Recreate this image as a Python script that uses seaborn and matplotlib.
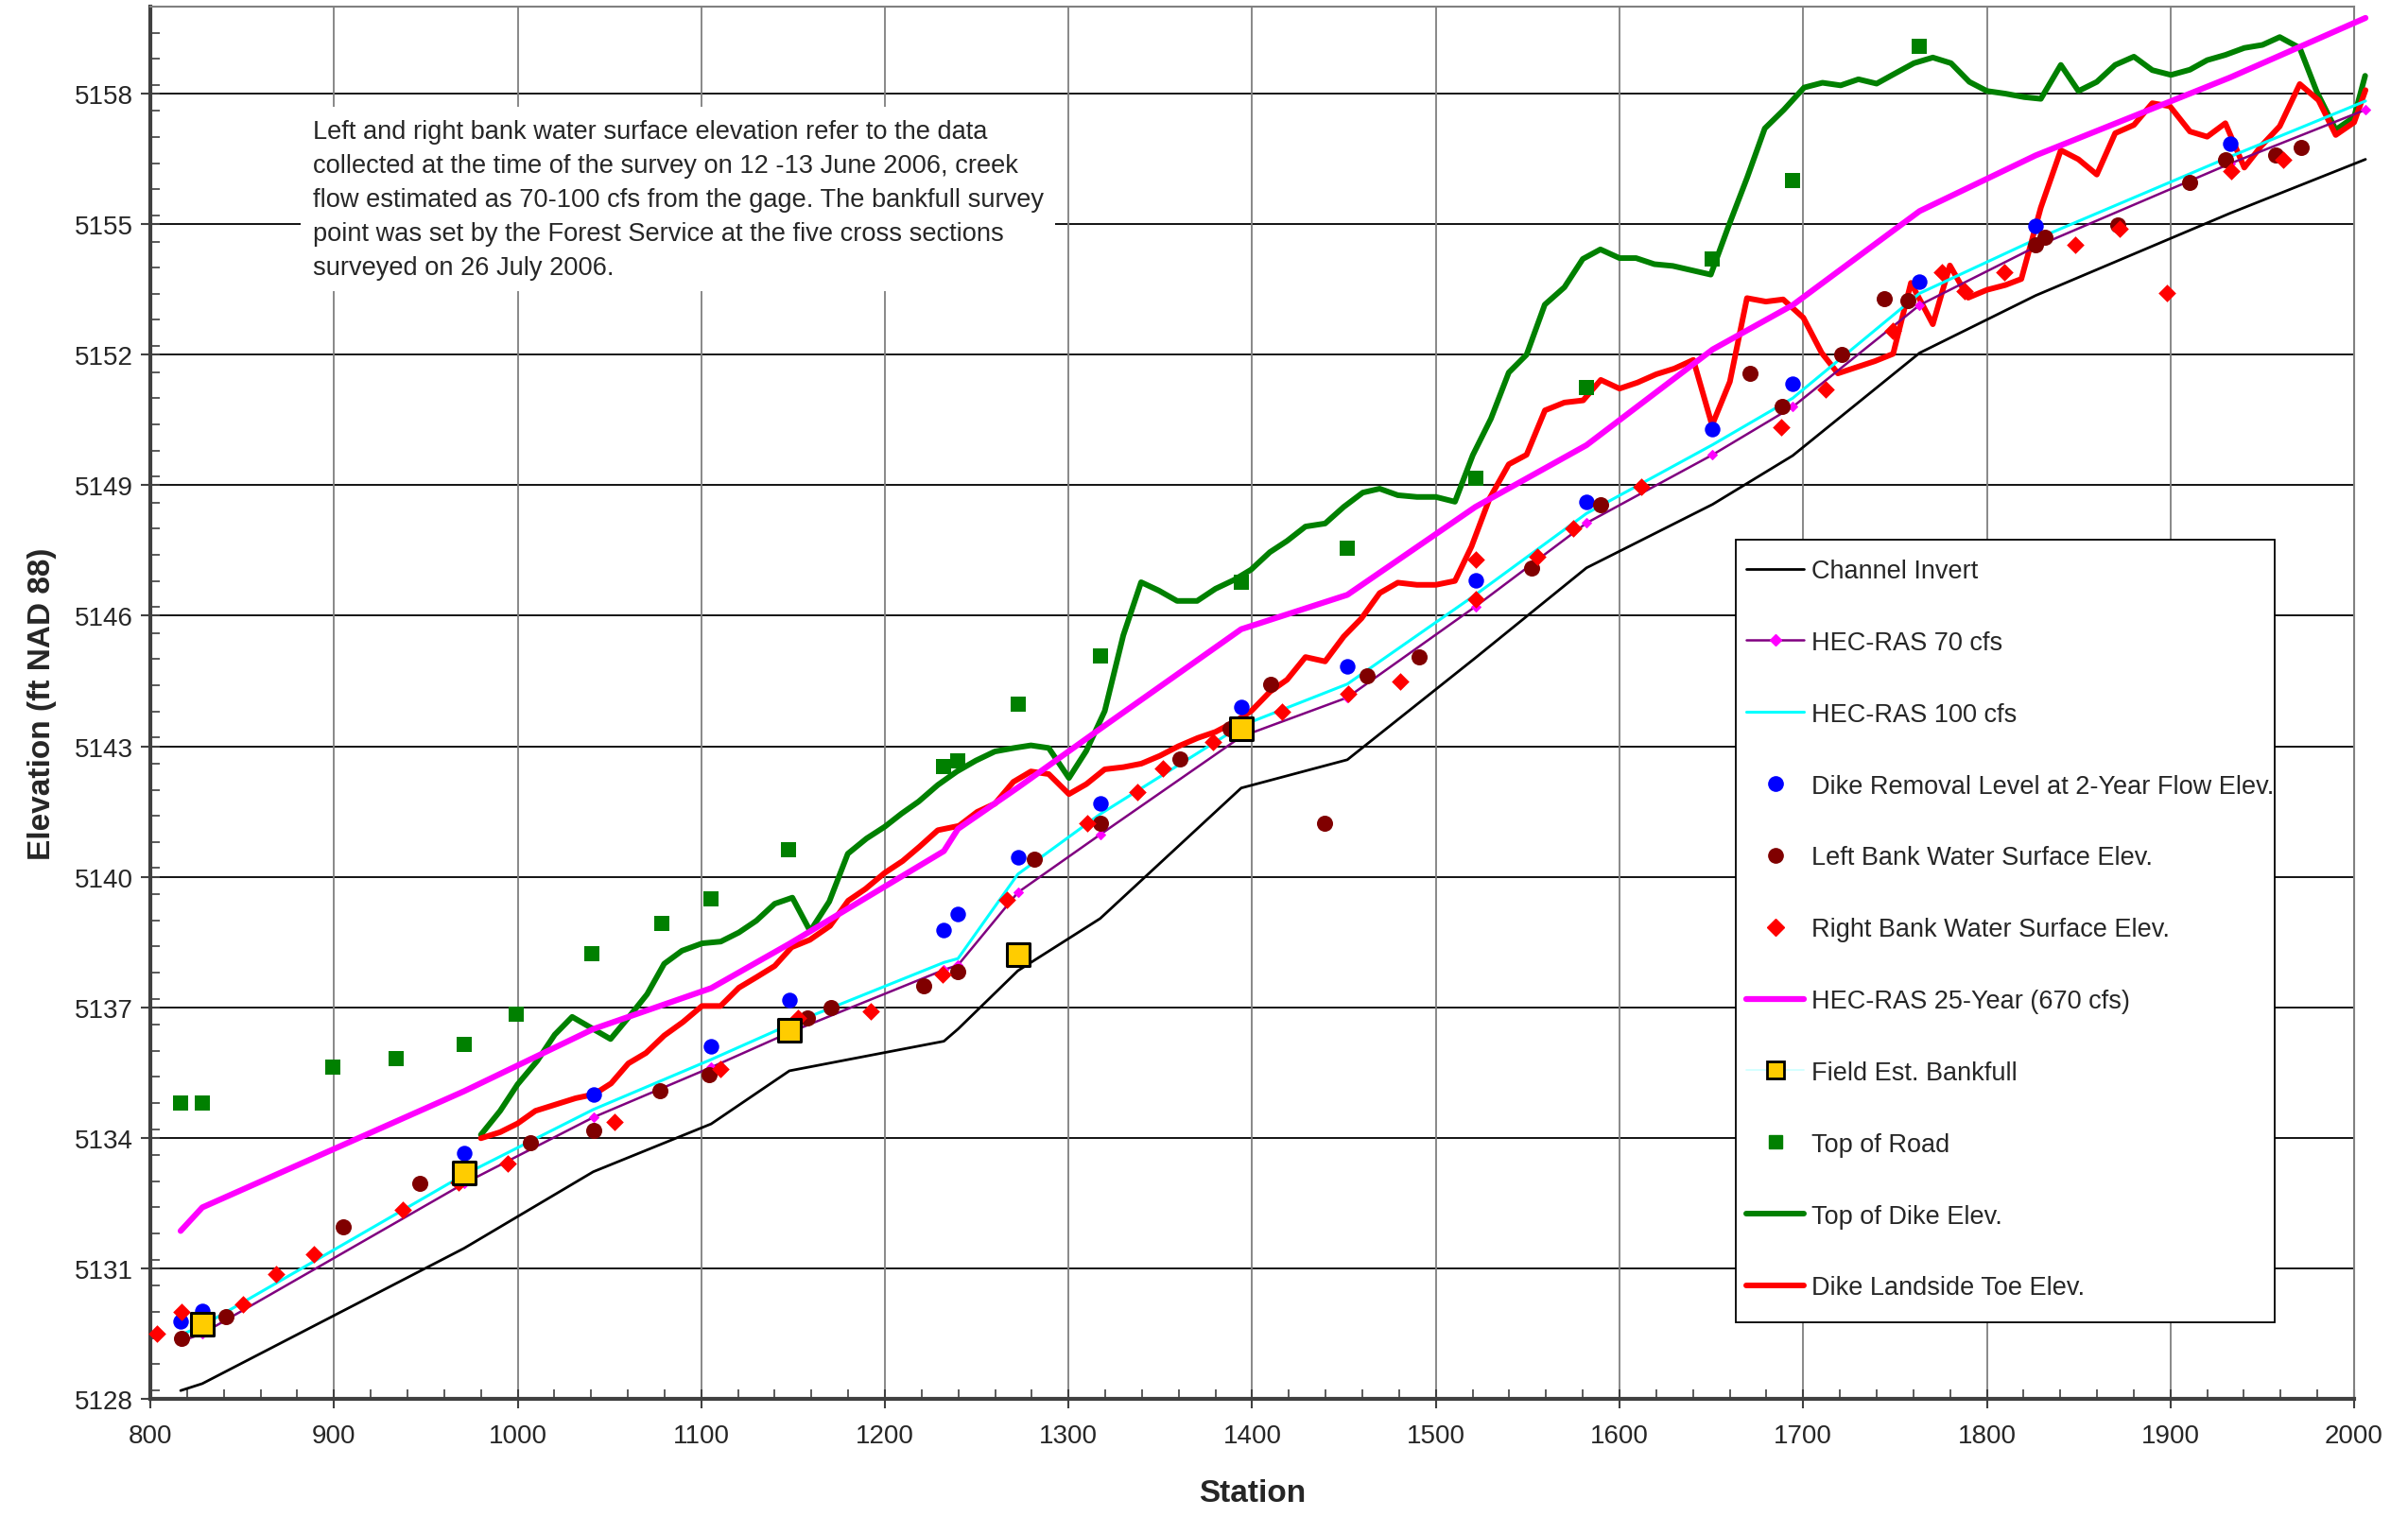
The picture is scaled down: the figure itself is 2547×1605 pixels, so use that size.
import matplotlib
matplotlib.use("Agg")
import matplotlib.pyplot as plt
from matplotlib.lines import Line2D
from matplotlib.patches import Rectangle
from matplotlib.ticker import MultipleLocator
import seaborn as sns
import numpy as np

# ---------------- data ----------------
xs_station = [816.5, 828.3, 970.8, 1041.2, 1105.4, 1148.0, 1232.1, 1239.8, 1272.4, 1317.2,
              1394.0, 1451.8, 1521.5, 1582.0, 1650.7, 1694.3, 1763.4, 1826.6, 1932.4, 2006.2]
channel_invert = [5128.19, 5128.35, 5131.46, 5133.22, 5134.32, 5135.54, 5136.22, 5136.50, 5137.84, 5139.04,
                  5142.04, 5142.69, 5145.03, 5147.10, 5148.56, 5149.68, 5152.04, 5153.36, 5155.25, 5156.49]
hecras_70 = [5129.32, 5129.50, 5132.95, 5134.47, 5135.62, 5136.42, 5137.86, 5137.97, 5139.64, 5140.97,
             5143.22, 5144.12, 5146.21, 5148.13, 5149.70, 5150.80, 5153.14, 5154.48, 5156.39, 5157.63]
hecras_100 = [5129.47, 5129.68, 5133.15, 5134.65, 5135.80, 5136.60, 5138.03, 5138.12, 5140.06, 5141.44,
              5143.47, 5144.43, 5146.48, 5148.35, 5149.93, 5151.00, 5153.41, 5154.65, 5156.55, 5157.83]
hecras_25yr = [5131.86, 5132.40, 5135.07, 5136.50, 5137.44, 5138.46, 5140.59, 5141.10, 5142.05, 5143.40,
               5145.69, 5146.48, 5148.50, 5149.92, 5152.12, 5153.14, 5155.30, 5156.58, 5158.37, 5159.74]

dike_removal_x = [816.3, 828.3, 970.8, 1041.2, 1105.4, 1148.0, 1232.1, 1239.8, 1272.4, 1317.2,
                  1394.0, 1451.8, 1521.5, 1582.0, 1650.7, 1694.3, 1763.4, 1826.6, 1932.4]
dike_removal_y = [5129.78, 5130.03, 5133.65, 5135.00, 5136.11, 5137.17, 5138.78, 5139.15, 5140.44, 5141.69,
                  5143.91, 5144.83, 5146.81, 5148.62, 5150.28, 5151.34, 5153.67, 5154.96, 5156.84]

left_bank_x = [817.1, 841.3, 904.8, 946.5, 1007.2, 1041.2, 1077.5, 1104.2, 1157.8, 1170.8,
               1221.0, 1239.8, 1281.1, 1317.2, 1360.8, 1388.0, 1410.0, 1439.4, 1462.4, 1491.0,
               1552.2, 1589.5, 1670.8, 1688.7, 1721.2, 1744.2, 1757.0, 1826.6, 1831.9, 1871.4,
               1910.6, 1930.2, 1957.3, 1971.0]
left_bank_y = [5129.38, 5129.88, 5131.95, 5132.96, 5133.88, 5134.16, 5135.09, 5135.46, 5136.75, 5136.99,
               5137.49, 5137.83, 5140.40, 5141.23, 5142.71, 5143.40, 5144.42, 5141.22, 5144.61, 5145.05,
               5147.09, 5148.56, 5151.58, 5150.82, 5152.00, 5153.28, 5153.24, 5154.52, 5154.69, 5154.98,
               5155.96, 5156.47, 5156.58, 5156.76]

right_bank_x = [803.4, 816.8, 850.6, 868.3, 888.9, 937.2, 968.0, 994.4, 1052.9, 1110.6,
                1152.6, 1192.3, 1231.2, 1266.4, 1310.0, 1337.3, 1351.5, 1378.8, 1416.0, 1452.3,
                1480.5, 1521.5, 1522.0, 1555.0, 1575.0, 1612.0, 1688.1, 1712.0, 1748.6, 1775.8,
                1787.7, 1809.5, 1848.1, 1872.4, 1898.2, 1933.0, 1961.6]
right_bank_y = [5129.49, 5129.99, 5130.18, 5130.86, 5131.33, 5132.35, 5132.97, 5133.41, 5134.36, 5135.59,
                5136.75, 5136.91, 5137.76, 5139.46, 5141.22, 5141.94, 5142.50, 5143.10, 5143.80, 5144.20,
                5144.48, 5146.38, 5147.30, 5147.36, 5148.00, 5148.96, 5150.34, 5151.21, 5152.55, 5153.90,
                5153.47, 5153.90, 5154.52, 5154.90, 5153.42, 5156.22, 5156.49]

bankfull_x = [828.3, 970.8, 1148.0, 1272.4, 1394.0]
bankfull_y = [5129.72, 5133.20, 5136.47, 5138.22, 5143.40]

road_x = [816.3, 828.3, 899.3, 934.0, 970.8, 999.0, 1040.2, 1078.5, 1105.4, 1147.5,
          1232.0, 1239.8, 1272.4, 1317.2, 1394.0, 1451.8, 1521.5, 1582.0, 1650.7, 1694.3, 1763.4]
road_y = [5134.80, 5134.80, 5135.63, 5135.82, 5136.14, 5136.85, 5138.23, 5138.92, 5139.50, 5140.62,
          5142.53, 5142.66, 5143.96, 5145.07, 5146.78, 5147.55, 5149.17, 5151.25, 5154.20, 5156.00, 5159.08]

dike_top_x = [980.0, 990.5, 1000.0, 1010.7, 1020.2, 1029.7, 1050.6, 1061.6, 1070.5, 1079.8,
              1089.5, 1100.5, 1110.6, 1120.5, 1130.0, 1140.0, 1149.6, 1159.3, 1169.7, 1179.8,
              1190.0, 1199.9, 1209.0, 1218.4, 1228.8, 1239.2, 1249.5, 1259.9, 1270.3, 1279.5,
              1289.2, 1300.2, 1309.6, 1319.7, 1329.8, 1339.5, 1349.1, 1359.1, 1370.0, 1380.0,
              1390.0, 1399.4, 1409.6, 1419.0, 1429.0, 1439.7, 1449.8, 1460.2, 1469.4, 1479.3,
              1489.7, 1500.0, 1510.4, 1520.1, 1530.0, 1539.7, 1549.4, 1559.3, 1570.0, 1580.0,
              1589.6, 1600.0, 1609.0, 1619.0, 1629.0, 1649.7, 1659.5, 1669.5, 1679.1, 1689.5,
              1700.5, 1710.5, 1720.4, 1730.1, 1740.0, 1750.3, 1760.3, 1770.6, 1780.5, 1790.5,
              1800.1, 1810.1, 1820.4, 1829.4, 1840.3, 1849.9, 1859.9, 1869.9, 1880.1, 1890.1,
              1900.3, 1910.6, 1920.0, 1929.9, 1940.2, 1950.1, 1959.5, 1970.4, 1979.7, 1990.0,
              2000.0, 2006.0]
dike_top_y = [5134.07, 5134.62, 5135.23, 5135.77, 5136.37, 5136.78, 5136.27, 5136.83, 5137.30, 5138.00,
              5138.30, 5138.47, 5138.51, 5138.72, 5138.99, 5139.38, 5139.52, 5138.75, 5139.43, 5140.53,
              5140.88, 5141.15, 5141.45, 5141.73, 5142.11, 5142.42, 5142.67, 5142.88, 5142.96, 5143.02,
              5142.96, 5142.27, 5142.89, 5143.81, 5145.55, 5146.77, 5146.58, 5146.34, 5146.34, 5146.62,
              5146.82, 5147.06, 5147.46, 5147.72, 5148.05, 5148.12, 5148.50, 5148.83, 5148.92, 5148.77,
              5148.73, 5148.73, 5148.62, 5149.69, 5150.53, 5151.59, 5152.00, 5153.15, 5153.55, 5154.20,
              5154.42, 5154.22, 5154.22, 5154.08, 5154.04, 5153.84, 5154.97, 5156.07, 5157.20, 5157.63,
              5158.14, 5158.25, 5158.19, 5158.33, 5158.23, 5158.47, 5158.70, 5158.83, 5158.70, 5158.27,
              5158.06, 5158.00, 5157.92, 5157.88, 5158.66, 5158.06, 5158.27, 5158.66, 5158.85, 5158.54,
              5158.43, 5158.55, 5158.77, 5158.89, 5159.05, 5159.12, 5159.30, 5159.05, 5158.04, 5157.17,
              5157.46, 5158.41]

dike_toe_x = [980.0, 990.5, 1000.0, 1009.7, 1031.6, 1041.6, 1050.9, 1060.3, 1069.9, 1079.8,
              1090.0, 1100.4, 1110.5, 1120.5, 1130.0, 1140.0, 1149.2, 1159.1, 1170.1, 1180.0,
              1189.4, 1199.9, 1209.6, 1218.8, 1228.8, 1240.3, 1250.2, 1259.9, 1269.9, 1279.5,
              1289.2, 1300.2, 1309.7, 1319.7, 1329.9, 1339.6, 1349.7, 1359.8, 1370.3, 1380.0,
              1389.5, 1399.5, 1409.6, 1419.0, 1429.0, 1439.7, 1449.8, 1459.5, 1469.4, 1479.3,
              1489.7, 1500.0, 1510.4, 1519.4, 1529.3, 1539.7, 1549.4, 1559.4, 1570.0, 1580.2,
              1589.8, 1600.0, 1609.8, 1620.0, 1629.8, 1640.2, 1650.4, 1660.1, 1669.4, 1679.7,
              1689.1, 1700.1, 1710.1, 1718.9, 1739.0, 1749.0, 1758.7, 1770.6, 1779.9, 1789.9,
              1800.1, 1810.1, 1818.8, 1829.4, 1840.3, 1849.9, 1859.9, 1869.9, 1880.1, 1890.1,
              1899.7, 1910.6, 1920.0, 1929.9, 1940.2, 1949.5, 1959.5, 1970.4, 1980.6, 1990.0,
              2000.0, 2006.2]
dike_toe_y = [5133.99, 5134.13, 5134.33, 5134.62, 5134.91, 5135.00, 5135.25, 5135.71, 5135.95, 5136.35,
              5136.66, 5137.03, 5137.03, 5137.45, 5137.69, 5137.95, 5138.38, 5138.55, 5138.87, 5139.45,
              5139.72, 5140.09, 5140.36, 5140.69, 5141.07, 5141.17, 5141.49, 5141.68, 5142.18, 5142.42,
              5142.36, 5141.90, 5142.13, 5142.47, 5142.52, 5142.60, 5142.78, 5143.00, 5143.19, 5143.33,
              5143.54, 5143.81, 5144.25, 5144.53, 5145.05, 5144.95, 5145.52, 5145.94, 5146.52, 5146.76,
              5146.71, 5146.71, 5146.80, 5147.59, 5148.70, 5149.48, 5149.70, 5150.72, 5150.90, 5150.95,
              5151.42, 5151.22, 5151.36, 5151.55, 5151.68, 5151.88, 5150.38, 5151.38, 5153.30, 5153.22,
              5153.27, 5152.85, 5152.04, 5151.57, 5151.85, 5152.02, 5153.65, 5152.70, 5154.05, 5153.31,
              5153.49, 5153.60, 5153.74, 5155.38, 5156.70, 5156.49, 5156.14, 5157.09, 5157.28, 5157.78,
              5157.71, 5157.13, 5157.01, 5157.32, 5156.30, 5156.80, 5157.25, 5158.22, 5157.85, 5157.05,
              5157.34, 5158.08]

legend_labels = ["Channel Invert", "HEC-RAS 70 cfs", "HEC-RAS 100 cfs",
                 "Dike Removal Level at 2-Year Flow Elev.", "Left Bank Water Surface Elev.",
                 "Right Bank Water Surface Elev.", "HEC-RAS 25-Year (670 cfs)",
                 "Field Est. Bankfull", "Top of Road", "Top of Dike Elev.", "Dike Landside Toe Elev."]

note_text = ("Left and right bank water surface elevation refer to the data\n"
             "collected at the time of the survey on 12 -13 June 2006, creek\n"
             "flow estimated as 70-100 cfs from the gage. The bankfull survey\n"
             "point was set by the Forest Service at the five cross sections\n"
             "surveyed on 26 July 2006.")

# ---------------- style ----------------
sns.set_style("white")
plt.rcParams['font.family'] = ['Liberation Sans', 'DejaVu Sans']

C_PURPLE = "#800080"
C_MAG = "#FF00FF"
C_CYAN = "#00FFFF"
C_GREEN = "#008000"
C_RED = "#FF0000"
C_DRED = "#800000"
C_BLUE = "#0000FF"
C_GOLD = "#FFCC00"

fig = plt.figure(figsize=(25.47, 16.06), dpi=100)
ax = fig.add_axes([159/2547, 1 - 1481/1606, 2331/2547, 1473/1606])

# grid
for yv in np.arange(5128, 5161, 3):
    ax.axhline(yv, color="#000000", lw=1.3, zorder=0)
for xv in np.arange(900, 2000, 100):
    ax.axvline(xv, color="#7f7f7f", lw=1.3, zorder=0)

# lines
def line(x, y, color, lw, z, **kw):
    sns.lineplot(x=x, y=y, ax=ax, color=color, lw=lw, sort=False, estimator=None,
                 zorder=z, clip_on=False, **kw)

line(xs_station, channel_invert, "black", 2.0, 3)
line(dike_top_x, dike_top_y, C_GREEN, 4.3, 3)
line(dike_toe_x, dike_toe_y, C_RED, 4.3, 4)
line(xs_station, hecras_25yr, C_MAG, 4.5, 4)
line(xs_station, hecras_100, C_CYAN, 2.2, 5)
line(xs_station, hecras_70, C_PURPLE, 1.8, 5, marker="D", markersize=5.5,
     markerfacecolor=C_MAG, markeredgecolor=C_MAG)

# scatter series
sns.scatterplot(x=road_x, y=road_y, ax=ax, marker="s", s=125, color=C_GREEN,
                edgecolor=C_GREEN, linewidth=0, zorder=6)
sns.scatterplot(x=dike_removal_x, y=dike_removal_y, ax=ax, marker="o", s=140, color=C_BLUE,
                edgecolor=C_BLUE, linewidth=0, zorder=6)
sns.scatterplot(x=left_bank_x, y=left_bank_y, ax=ax, marker="o", s=150, color=C_DRED,
                edgecolor=C_DRED, linewidth=0, zorder=6)
sns.scatterplot(x=right_bank_x, y=right_bank_y, ax=ax, marker="D", s=90, color=C_RED,
                edgecolor=C_RED, linewidth=0, zorder=6, clip_on=False)
sns.scatterplot(x=bankfull_x, y=bankfull_y, ax=ax, marker="s", s=300, color=C_GOLD,
                edgecolor="black", linewidth=2.2, zorder=7)

# axes
ax.set_xlim(800, 2000)
ax.set_ylim(5128, 5160)
ax.xaxis.set_major_locator(MultipleLocator(100))
ax.xaxis.set_minor_locator(MultipleLocator(20))
ax.set_yticks(np.arange(5128, 5159, 3))
ax.yaxis.set_minor_locator(MultipleLocator(0.6))
ax.tick_params(axis="both", which="major", direction="inout", length=14, width=1.5,
               color="#404040", labelsize=20)
ax.tick_params(axis="both", which="minor", direction="in", length=7, width=1.2, color="#404040")
ax.tick_params(axis="x", which="major", pad=12)
ax.tick_params(axis="y", which="major", pad=6)
ax.tick_params(axis="both", which="both", bottom=True, left=True, top=False, right=False)

for s in ["left", "bottom"]:
    ax.spines[s].set_color("#404040")
    ax.spines[s].set_linewidth(3)
for s in ["top", "right"]:
    ax.spines[s].set_color("#808080")
    ax.spines[s].set_linewidth(1.5)

ax.set_xlabel("Station", fontsize=24, fontweight="bold")
ax.set_ylabel("Elevation (ft NAD 88)", fontsize=24, fontweight="bold")
ax.xaxis.set_label_coords(0.5, -0.057)
ax.yaxis.set_label_coords(-0.0425, 0.5)

# note text
ax.text(888.5, 5157.42, note_text, fontsize=19.6, va="top", ha="left", linespacing=1.5,
        zorder=10, bbox=dict(facecolor="white", edgecolor="none", pad=9))

# legend (frame drawn separately to match the reference box)
ax.add_patch(Rectangle((0.7193, 0.0549), 0.9638 - 0.7193, 0.6172 - 0.0549,
                       transform=ax.transAxes, facecolor="white", edgecolor="black",
                       lw=1.3, zorder=19))
handles = [
    Line2D([], [], color="black", lw=2),
    Line2D([], [], color=C_PURPLE, lw=1.8, marker="D", ms=6, mfc=C_MAG, mec=C_MAG),
    Line2D([], [], color=C_CYAN, lw=2.2),
    Line2D([], [], ls="none", marker="o", ms=11, color=C_BLUE),
    Line2D([], [], ls="none", marker="o", ms=11, color=C_DRED),
    Line2D([], [], ls="none", marker="D", ms=9, color=C_RED),
    Line2D([], [], color=C_MAG, lw=4.5),
    Line2D([], [], color="#CCFFFF", lw=1.2, marker="s", ms=13, mfc=C_GOLD, mec="black", mew=2),
    Line2D([], [], ls="none", marker="s", ms=10.5, color=C_GREEN),
    Line2D([], [], color=C_GREEN, lw=4.3),
    Line2D([], [], color=C_RED, lw=4.3),
]
leg = ax.legend(handles, legend_labels, loc="upper left", bbox_to_anchor=(0.7242, 0.6035),
                fontsize=19.5, frameon=False, borderpad=0, labelspacing=1.84,
                handlelength=2.25, handletextpad=0.3, borderaxespad=0)
leg.set_zorder(20)

fig.savefig("out.png", dpi=100)
